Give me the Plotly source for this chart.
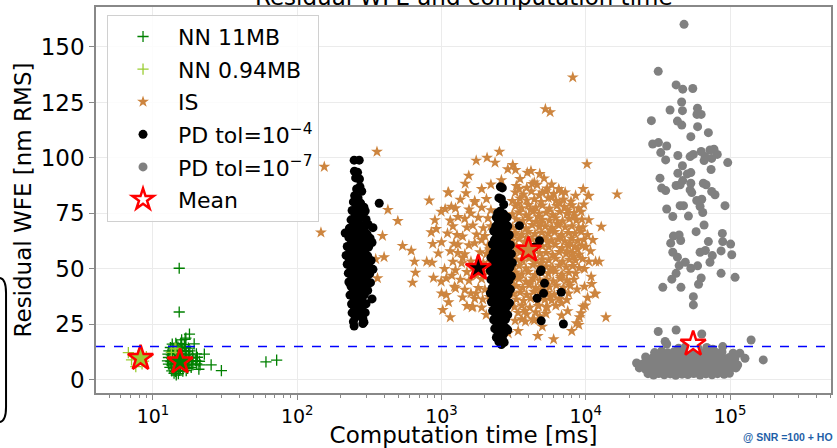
import plotly.graph_objects as go

# ---------------- data ----------------
# NN 11MB : (computation time [ms], residual WFE [nm RMS])
nn11_points = [
    (15.2, 50.3), (15.2, 30.6), (17.9, 20.6), (16.7, 18.3), (19.3, 16.2), (22.7, 11.6),
    (25.3, 6.8), (29.8, 4.2), (60.7, 8.1), (72.0, 8.9), (15.8, 18.0), (14.4, 16.5),
    (16.9, 18.8), (20.8, 4.8), (21.2, 6.8), (14.5, 2.2),
    (13.6, 16.1), (14.6, 15.7), (15.6, 16.3), (16.5, 15.9),
    (13.2, 14.6), (14.0, 14.2), (14.9, 14.8), (15.8, 14.4), (16.8, 14.7), (17.6, 14.3),
    (12.9, 13.1), (13.6, 12.8), (14.4, 13.3), (15.2, 12.9), (16.1, 13.2), (17.0, 12.7), (18.0, 13.1),
    (12.7, 11.6), (13.4, 11.3), (14.2, 11.8), (15.0, 11.4), (15.8, 11.7), (16.7, 11.2), (17.7, 11.6),
    (18.8, 11.3), (20.0, 11.7),
    (12.8, 10.1), (13.5, 9.8), (14.3, 10.3), (15.1, 9.9), (15.9, 10.2), (16.8, 9.7), (17.8, 10.1),
    (18.9, 9.8), (20.3, 10.2),
    (12.6, 8.6), (13.3, 8.3), (14.1, 8.8), (14.9, 8.4), (15.7, 8.7), (16.6, 8.2), (17.6, 8.6),
    (18.6, 8.3), (19.8, 8.7), (21.0, 8.4),
    (12.8, 7.1), (13.5, 6.8), (14.2, 7.3), (15.0, 6.9), (15.9, 7.2), (16.8, 6.7), (17.8, 7.1),
    (18.9, 6.8), (20.1, 7.2),
    (13.1, 5.6), (13.9, 5.3), (14.7, 5.8), (15.5, 5.4), (16.4, 5.7), (17.4, 5.2), (18.4, 5.6),
    (13.5, 4.1), (14.3, 3.8), (15.2, 4.3), (16.1, 3.9), (17.0, 4.2),
    (14.0, 3.0), (15.0, 2.8),
]

# NN 0.94MB
nn094_points = [
    (6.75, 12.3), (7.1, 9.0), (7.6, 6.0), (7.9, 11.0), (8.2, 9.8), (8.6, 8.5),
    (9.0, 10.5), (8.4, 7.2), (14.4, 14.0), (14.2, 14.3), (13.4, 12.4),
]

# IS
is_points = [
    (3300, 87.4), (3900, 86.6), (4600, 87.9), (5400, 86.2),
    (3250, 84.5), (3700, 83.6), (4200, 84.9), (4750, 83.2), (5300, 85.0), (6000, 83.8), (6800, 84.6),
    (3100, 80.6), (3500, 81.7), (3900, 80.9), (4400, 81.4), (4900, 80.2), (5500, 81.9), (6200, 80.7),
    (7000, 81.3), (7900, 80.4),
    (3250, 78.3), (3600, 77.4), (4000, 78.8), (4500, 77.7), (5000, 78.6), (5600, 77.2), (6300, 78.4),
    (7100, 77.9), (8000, 78.7), (8900, 77.3),
    (3100, 74.6), (3450, 75.5), (3850, 74.2), (4300, 75.8), (4750, 74.9), (5300, 75.3), (5900, 74.4),
    (6600, 75.7), (7400, 74.8), (8300, 75.2),
    (3300, 72.4), (3650, 71.6), (4050, 72.7), (4500, 71.3), (5000, 72.2), (5600, 71.8), (6200, 72.9),
    (6900, 71.5), (7700, 72.5), (8600, 71.9), (9400, 72.3),
    (3100, 68.7), (3450, 69.4), (3850, 68.3), (4250, 69.8), (4750, 68.9), (5250, 69.2), (5850, 68.5),
    (6500, 69.6), (7200, 68.8), (8000, 69.3), (8900, 68.4),
    (3250, 66.3), (3600, 65.5), (4000, 66.8), (4450, 65.7), (4950, 66.4), (5500, 65.9), (6100, 66.6),
    (6800, 65.4), (7600, 66.2), (8400, 65.8), (9300, 66.7),
    (3100, 62.8), (3450, 63.6), (3800, 62.4), (4250, 63.3), (4700, 62.7), (5200, 63.8), (5800, 62.9),
    (6450, 63.4), (7150, 62.5), (7950, 63.7), (8800, 62.6), (9700, 63.2),
    (3300, 60.4), (3650, 59.6), (4050, 60.7), (4500, 59.4), (5000, 60.2), (5550, 59.8), (6150, 60.9),
    (6850, 59.5), (7600, 60.3), (8450, 59.9), (9400, 60.6),
    (3150, 56.6), (3500, 57.5), (3900, 56.3), (4300, 57.8), (4800, 56.9), (5300, 57.2), (5900, 56.4),
    (6550, 57.6), (7300, 56.8), (8100, 57.3), (9000, 56.5),
    (3300, 54.3), (3650, 53.5), (4050, 54.8), (4500, 53.7), (5000, 54.4), (5550, 53.9), (6200, 54.6),
    (6900, 53.4), (7700, 54.2), (8500, 53.8), (9500, 54.5),
    (3100, 50.7), (3450, 51.4), (3850, 50.3), (4300, 51.8), (4750, 50.9), (5300, 51.2), (5900, 50.5),
    (6550, 51.6), (7300, 50.8), (8100, 51.3), (9000, 50.4),
    (3250, 48.4), (3600, 47.6), (4000, 48.7), (4450, 47.3), (4950, 48.2), (5500, 47.8), (6150, 48.9),
    (6850, 47.5), (7650, 48.3), (8500, 47.9),
    (3100, 44.6), (3450, 45.5), (3850, 44.3), (4300, 45.7), (4800, 44.8), (5350, 45.3), (5950, 44.5),
    (6650, 45.6), (7400, 44.9), (8300, 45.2),
    (3300, 42.3), (3650, 41.5), (4050, 42.7), (4500, 41.4), (5000, 42.2), (5600, 41.8), (6250, 42.6),
    (7000, 41.6), (7800, 42.4),
    (3150, 38.7), (3500, 39.4), (3900, 38.4), (4350, 39.7), (4850, 38.8), (5400, 39.3), (6050, 38.5),
    (6750, 39.6), (7600, 38.9),
    (3300, 36.3), (3700, 35.6), (4150, 36.7), (4650, 35.4), (5200, 36.2), (5800, 35.8), (6500, 36.5),
    (3200, 32.8), (3600, 33.5), (4100, 32.6), (4700, 33.3), (5400, 32.7), (6200, 33.4),
    (3400, 30.2), (3900, 29.6), (4500, 30.5), (5300, 29.8),
    (3600, 27.3), (4400, 26.8),
    (3450, 86.0), (4250, 88.3), (5000, 84.4), (5800, 82.2), (6600, 79.6), (7500, 76.3), (8400, 73.7),
    (3400, 79.4), (4150, 76.6), (4900, 70.6), (5700, 67.4), (6700, 64.2), (7800, 61.5), (8800, 58.8),
    (3350, 58.9), (4100, 55.9), (4900, 52.6), (5700, 49.5), (6700, 46.4), (7700, 43.5), (8700, 40.8),
    (3350, 46.9), (4150, 43.9), (4900, 40.6), (5700, 37.4), (6800, 34.6), (3800, 31.1), (4800, 28.7),
    (3200, 65.2), (3950, 64.1), (4700, 73.4), (5450, 62.0), (6350, 70.5), (7450, 57.9), (8200, 55.6),
    (1350, 81.2), (1700, 80.6), (2050, 81.5),
    (1250, 77.3), (1550, 76.8), (1900, 77.6), (2200, 76.5),
    (1300, 73.4), (1450, 72.6), (1800, 73.1), (2100, 72.8),
    (1200, 69.2), (1500, 68.7), (1650, 69.6), (1950, 68.4), (2200, 69.3),
    (1280, 65.3), (1400, 64.6), (1750, 65.5), (2000, 64.8),
    (1220, 61.4), (1550, 60.7), (1700, 61.6), (2100, 60.5), (2250, 61.2),
    (1300, 57.2), (1450, 56.6), (1850, 57.5), (2050, 56.8),
    (1200, 53.3), (1380, 52.6), (1600, 53.4), (1950, 52.7), (2200, 53.2),
    (1250, 49.4), (1500, 48.6), (1700, 49.3), (2100, 48.7),
    (1350, 45.2), (1550, 44.7), (1900, 45.5), (2250, 44.6),
    (1250, 41.3), (1450, 40.6), (1800, 41.4), (2000, 40.7),
    (1400, 37.2), (1700, 36.6), (2150, 37.4),
    (1500, 33.3), (1900, 32.6),
    (1600, 75.0), (1900, 63.0), (1400, 55.0), (1750, 47.0), (1600, 39.0), (2150, 58.8), (1300, 61.0),
    (900, 72), (1000, 62), (950, 57), (1100, 66), (1050, 50), (880, 46), (1150, 58), (1000, 39),
    (1120, 35), (920, 68), (1180, 47), (1060, 77),
    (154, 96), (146, 66.4), (357, 102.8), (425, 76.6), (498, 71.6), (390, 64.9), (400, 55.3),
    (360, 45.8), (350, 54.4), (537, 60.4), (617, 58.2), (650, 53.3), (630, 43.8), (660, 48.3),
    (822, 80.8), (849, 66.5), (870, 61.3), (790, 53.3), (860, 52.8),
    (8130, 136.3), (5250, 122.0), (5660, 120.6),
    (1740, 98.8), (2070, 100.1), (2520, 102.8), (2350, 97.9), (3120, 96.8), (2880, 94.9), (3260, 94.6),
    (3930, 93.4), (4170, 94.1), (4800, 92.8), (5140, 90.8), (1545, 92.0), (10200, 97.2), (16500, 83.6),
    (10500, 82.9), (995, 75.8), (1150, 71.8), (1120, 84.4), (1480, 84.1), (1460, 88.4), (12800, 69.0),
    (9560, 68.8), (1020, 31.5), (1150, 28.2), (995, 44.3), (1080, 45.8), (1630, 32.7), (4650, 19.8),
    (5990, 18.3), (3820, 26.3), (4290, 27.3), (5310, 32.7), (8620, 25.5), (13800, 28.2), (9060, 28.2),
    (10900, 46.5), (11500, 39.0), (12400, 53.3), (10500, 53.3), (9560, 33.0), (7400, 36.0),
    (10300, 65.3), (1110, 84.5), (1170, 78.0), (9300, 75.8), (11700, 53.3), (11000, 43.2),
    (11700, 38.7), (9800, 42.0), (9950, 33.5), (8950, 24.8), (1650, 33.0), (1080, 38.3), (1230, 42.0),
    (1740, 39.0), (1930, 36.3), (2040, 29.3), (3240, 26.7), (10400, 83.0),
    (10000, 60), (10800, 58), (9800, 50), (10500, 72), (9700, 79), (11200, 63), (10300, 37),
    (9300, 30), (9600, 86),
    (2600, 90), (3500, 90.5), (4400, 89), (5800, 88), (6500, 86), (7200, 84.5), (2200, 88),
    (1900, 86), (1700, 80), (8500, 83),
    (2500, 24), (2900, 21), (3400, 22), (6800, 29), (7500, 31), (8000, 22), (5000, 24), (2300, 32),
]

# PD tol=1e-4
pd4_points = [
    (248, 99), (269, 99), (249, 94), (262, 93.5), (254, 91), (270, 90.5), (272, 87), (280, 85),
    (258, 86), (264, 82), (250, 83), (370, 79.6),
    (245, 80.2), (275, 79.6), (258, 78.1), (290, 77.8), (240, 76.3), (268, 75.7), (296, 76.1),
    (252, 74.2), (282, 73.8), (236, 72.1), (265, 71.7), (300, 72.3), (248, 70.2), (278, 69.6),
    (310, 70.1), (230, 68.3), (260, 67.7), (292, 68.1), (335, 68.6), (215, 66.2), (244, 65.8),
    (272, 66.4), (305, 65.7), (228, 64.1), (256, 63.7), (288, 64.3), (320, 63.8), (238, 62.2),
    (266, 61.7), (300, 62.3), (330, 61.9), (222, 60.1), (250, 59.7), (280, 60.3), (312, 59.8),
    (232, 58.2), (262, 57.8), (294, 58.3), (218, 56.1), (245, 55.7), (275, 56.3), (308, 55.8),
    (230, 54.2), (258, 53.7), (290, 54.3), (325, 53.8), (222, 52.1), (250, 51.7), (282, 52.3),
    (312, 51.8), (236, 50.2), (266, 49.7), (298, 50.3), (335, 49.8), (226, 48.1), (254, 47.7),
    (286, 48.3), (318, 47.8), (240, 46.2), (270, 45.7), (302, 46.3), (228, 44.1), (258, 43.7),
    (290, 44.3), (322, 43.8), (236, 42.2), (266, 41.7), (300, 42.3), (245, 40.1), (275, 39.7),
    (308, 40.3), (232, 38.2), (260, 37.7), (292, 38.3), (248, 36.1), (280, 35.7), (330, 36.5),
    (238, 34.2), (268, 33.7), (300, 34.3), (250, 32.1), (282, 31.7), (240, 30.2), (270, 29.7),
    (296, 30.3), (252, 28.1), (285, 27.7), (245, 26.2), (290, 26.0), (248, 24.3), (285, 25.4),
    (2560, 87), (2640, 86.5), (2500, 82), (2600, 81.5), (2700, 79), (2550, 76),
    (2450, 75.2), (2700, 74.7), (2400, 73.2), (2620, 72.8), (2850, 73.3), (2480, 71.1), (2750, 70.8),
    (2380, 69.2), (2600, 68.8), (2880, 69.3), (2300, 67.1), (2520, 66.7), (2780, 67.2), (2420, 65.2),
    (2680, 64.8), (2950, 65.3), (2330, 63.1), (2560, 62.8), (2820, 63.2), (2250, 61.2), (2470, 60.7),
    (2720, 61.3), (3000, 60.8), (2360, 59.1), (2600, 58.8), (2880, 59.3), (2280, 57.2), (2500, 56.7),
    (2760, 57.3), (3050, 56.8), (2200, 55.1), (2420, 54.8), (2650, 55.3), (2930, 54.7), (2320, 53.2),
    (2560, 52.7), (2820, 53.3), (3100, 52.8), (2240, 51.1), (2460, 50.8), (2720, 51.3), (2980, 50.7),
    (2180, 49.2), (2380, 48.7), (2620, 49.3), (2880, 48.8), (2280, 47.1), (2520, 46.8), (2780, 47.3),
    (3050, 46.7), (2200, 45.2), (2420, 44.7), (2680, 45.3), (2940, 44.8), (2320, 43.1), (2560, 42.8),
    (2830, 43.2), (2240, 41.2), (2460, 40.7), (2720, 41.3), (3000, 40.8), (2180, 39.1), (2380, 38.8),
    (2620, 39.3), (2900, 38.7), (2300, 37.2), (2540, 36.7), (2800, 37.3), (2220, 35.1), (2450, 34.8),
    (2700, 35.3), (2960, 34.7), (2360, 33.2), (2600, 32.7), (2860, 33.3), (2260, 31.1), (2500, 30.8),
    (2760, 31.3), (2380, 29.2), (2620, 28.7), (2880, 29.3), (2300, 27.1), (2540, 26.8), (2780, 27.3),
    (2420, 25.2), (2680, 24.8), (2340, 23.1), (2580, 22.8), (2800, 23.3), (2460, 21.2), (2700, 20.8),
    (2400, 19.1), (2640, 18.8), (2500, 17.2), (2720, 16.9), (2600, 15.9),
    (3470, 69.5), (4780, 62.7), (4390, 59.8), (4910, 49.5), (4850, 48.8), (5180, 43.5), (5100, 39.0),
    (6760, 39.5), (4600, 36.8), (4910, 26.6), (7000, 25.2), (2880, 22.5),
]

# PD tol=1e-7
pd7_points = [
    (48000, 160.2), (31800, 139.0), (42300, 132.9), (47000, 131.0), (55200, 131.3), (46200, 125.2),
    (38400, 121.6), (46800, 121.3), (59500, 122.4), (59000, 119.6), (63100, 119.6), (28500, 116.8),
    (43200, 116.6), (46300, 114.8), (59600, 114.1), (70800, 111.4), (53500, 109.6), (29100, 106.3),
    (31900, 106.9), (36400, 105.4), (33100, 102.4), (43500, 101.1), (35800, 99.1), (52900, 100.6),
    (55700, 101.6), (63100, 102.9), (67200, 100.6), (66100, 98.8), (72600, 103.6), (77400, 103.9),
    (81600, 101.6), (74600, 99.8), (96400, 97.9), (46800, 96.5), (43500, 93.1), (50600, 92.8),
    (53500, 93.4), (73900, 94.8), (32700, 90.9), (33600, 86.4), (35800, 85.3), (42300, 87.6),
    (45100, 87.9), (47000, 89.8), (53500, 88.6), (52900, 85.6), (54300, 84.4), (65300, 88.6),
    (68200, 87.9), (74600, 84.9), (78700, 83.4), (58800, 80.8), (63700, 81.4), (62000, 78.1),
    (64700, 75.4), (92300, 78.5), (36400, 77.0), (40100, 73.6), (45100, 78.5), (47600, 78.5),
    (51500, 73.8), (66100, 69.8), (58200, 66.8), (40500, 64.8), (44400, 65.3), (38800, 61.6),
    (45500, 62.8), (70800, 62.3), (88500, 66.0), (89000, 62.3), (101000, 61.2), (40100, 57.5),
    (43200, 55.3), (49000, 53.0), (44400, 51.5), (62000, 57.5), (67500, 58.3), (75400, 56.0),
    (86700, 58.1), (102800, 56.4), (72600, 53.0), (53500, 50.3), (59600, 51.4), (42300, 48.0),
    (86700, 48.0), (108400, 46.2), (39500, 45.4), (63100, 45.9), (34200, 41.7), (45700, 41.7),
    (60500, 43.1),
    (55700, 37.5), (55700, 33.8), (31800, 21.8), (42300, 22.5), (63700, 20.7), (140000, 18.0),
    (35500, 17.3), (36400, 16.2), (89000, 15.0), (170000, 9.0), (113000, 6.7), (127000, 9.7),
    (117000, 12.0), (105000, 12.0), (108000, 9.5),
    (27000, 2.8), (29500, 2.2), (32000, 2.9), (35000, 2.3), (38500, 2.7), (42000, 2.1), (46500, 2.6),
    (51000, 2.4), (56000, 2.9), (62000, 2.2), (68000, 2.7), (75000, 2.3), (82000, 2.8), (91000, 2.5),
    (99000, 3.0),
    (23500, 5.4), (26000, 4.8), (28800, 5.3), (31700, 4.7), (34900, 5.5), (38400, 4.9), (42200, 5.2),
    (46500, 4.6), (51200, 5.4), (56300, 4.8), (62000, 5.3), (68200, 4.7), (75000, 5.5), (82600, 4.9),
    (90900, 5.2), (100000, 4.8), (110000, 5.4),
    (22500, 7.6), (24800, 7.2), (27300, 7.8), (30200, 7.3), (33300, 7.7), (36600, 7.1), (40300, 7.9),
    (44400, 7.4), (48800, 7.6), (53700, 7.2), (59100, 7.8), (65000, 7.3), (71500, 7.7), (78700, 7.1),
    (86600, 7.8), (95000, 7.4), (104000, 7.6),
    (26000, 10.3), (28800, 9.7), (31700, 10.2), (34900, 9.8), (38400, 10.4), (42200, 9.6),
    (46500, 10.1), (51200, 9.9), (56300, 10.4), (62000, 9.7), (68200, 10.2), (75000, 9.8),
    (82600, 10.3), (90900, 9.6), (99000, 10.1),
    (30000, 12.3), (33500, 12.9), (37000, 12.2), (41000, 12.7), (45000, 12.4), (49500, 13.0),
    (54500, 12.5), (60000, 12.8), (66000, 12.2), (72500, 12.9), (80000, 12.4), (88000, 12.6),
    (44000, 14.3), (49000, 14.8), (60000, 14.2), (69000, 14.6), (76000, 13.8),
]

# Means (NN 11MB, NN 0.94MB, IS, PD 1e-4, PD 1e-7)
mean_time = [15.4, 8.2, 4010, 1800, 55500]
mean_wfe = [8.2, 9.8, 58.6, 50.4, 16.2]
mean_fill = ["#008000", "#9acd32", "#cd853f", "#000000", "#ffffff"]

threshold_wfe = 15

x_tick_vals = [10, 100, 1000, 10000, 100000]
x_tick_text = ["10<sup>1</sup>", "10<sup>2</sup>", "10<sup>3</sup>", "10<sup>4</sup>", "10<sup>5</sup>"]
x_minor_vals = [m * 10 ** e for e in range(0, 6) for m in range(2, 10)]
y_tick_vals = [0, 25, 50, 75, 100, 125, 150]


def cols(points):
    return [p[0] for p in points], [p[1] for p in points]


fig = go.Figure()

x, y = cols(nn11_points)
fig.add_trace(go.Scatter(x=x, y=y, mode="markers", name="NN 11MB", legendgroup="a",
                         marker=dict(symbol="cross-thin", size=8, color="#008000",
                                     line=dict(color="#008000", width=1.3))))
x, y = cols(nn094_points)
fig.add_trace(go.Scatter(x=x, y=y, mode="markers", name="NN 0.94MB", legendgroup="b",
                         marker=dict(symbol="cross-thin", size=8, color="#9acd32",
                                     line=dict(color="#9acd32", width=1.3))))
x, y = cols(is_points)
fig.add_trace(go.Scatter(x=x, y=y, mode="markers", name="IS", legendgroup="c",
                         marker=dict(symbol="star", size=9, color="#cd853f", line=dict(width=0))))
x, y = cols(pd4_points)
fig.add_trace(go.Scatter(x=x, y=y, mode="markers", name="PD tol=10<sup>−4</sup>", legendgroup="d",
                         marker=dict(symbol="circle", size=9, color="#000000", line=dict(width=0))))
x, y = cols(pd7_points)
fig.add_trace(go.Scatter(x=x, y=y, mode="markers", name="PD tol=10<sup>−7</sup>", legendgroup="e",
                         marker=dict(symbol="circle", size=9, color="#808080", line=dict(width=0))))
fig.add_trace(go.Scatter(x=mean_time, y=mean_wfe, mode="markers", name="Mean", legendgroup="f",
                         showlegend=False,
                         marker=dict(symbol="star", size=19, color=mean_fill,
                                     line=dict(color="#ff0000", width=2.5))))
fig.add_trace(go.Scatter(x=[None], y=[None], mode="markers", name="Mean", legendgroup="f",
                         marker=dict(symbol="star", size=16, color="#ffffff",
                                     line=dict(color="#ff0000", width=2.5))))

fig.add_shape(type="line", xref="paper", x0=0, x1=1, yref="y", y0=threshold_wfe, y1=threshold_wfe,
              line=dict(color="#0000ff", width=1.5, dash="dash"))
# edge of a neighbouring rounded frame at the left border of the picture (paper coordinates)
fig.add_shape(type="path", xref="paper", yref="paper",
              path="M -0.1320,0.2979 Q -0.1224,0.2979 -0.1224,0.2591 "
                   "L -0.1224,-0.0363 Q -0.1224,-0.0751 -0.1320,-0.0751",
              line=dict(color="#000000", width=2))

# chart title (partly cut by the top edge of the picture)
fig.add_annotation(text="Residual WFE and computation time", xref="paper", yref="paper",
                   x=0.5, y=1, xanchor="center", yanchor="bottom", yshift=-5, showarrow=False,
                   font=dict(size=23, color="black"))

fig.add_annotation(text="<b>@ SNR =100 + HO</b>", xref="paper", yref="paper", x=1.005, y=-0.114,
                   xanchor="right", yanchor="middle", showarrow=False,
                   font=dict(family="Liberation Sans", size=10.5, color="#1f5fa8"))

fig.update_layout(
    width=837, height=448,
    margin=dict(l=96, r=6, t=7, b=55, autoexpand=False),
    paper_bgcolor="white", plot_bgcolor="white",
    font=dict(family="DejaVu Sans", color="black"),
    legend=dict(x=0.015, y=0.98, xanchor="left", yanchor="top",
                bgcolor="rgba(255,255,255,0.85)", bordercolor="#d0d0d0", borderwidth=1,
                font=dict(size=22), itemwidth=60, traceorder="grouped", tracegroupgap=1),
)
fig.update_xaxes(type="log", range=[0.605, 5.70], tickmode="array", tickvals=x_tick_vals,
                 ticktext=x_tick_text, tickfont=dict(size=19), ticks="outside", ticklen=5,
                 tickcolor="#888888", showgrid=True, gridcolor="#ebebeb", gridwidth=1,
                 showline=True, linecolor="#888888", linewidth=1.5, mirror=True, zeroline=False,
                 automargin=False,
                 title=dict(text="Computation time [ms]", font=dict(size=23), standoff=4),
                 minor=dict(tickmode="array", tickvals=x_minor_vals, ticks="outside", ticklen=3,
                            tickcolor="#888888", showgrid=False))
fig.update_yaxes(range=[-5.9, 168], tickmode="array", tickvals=y_tick_vals, tickfont=dict(size=23),
                 ticks="outside", ticklen=5, tickcolor="#888888", showgrid=True, gridcolor="#ebebeb",
                 gridwidth=1, showline=True, linecolor="#888888", linewidth=1.5, mirror=True,
                 zeroline=False, automargin=False,
                 title=dict(text="Residual WFE [nm RMS]", font=dict(size=23), standoff=3))

fig.write_html("out.html", config={"displayModeBar": False},
               post_script="document.body.style.margin='0';")
